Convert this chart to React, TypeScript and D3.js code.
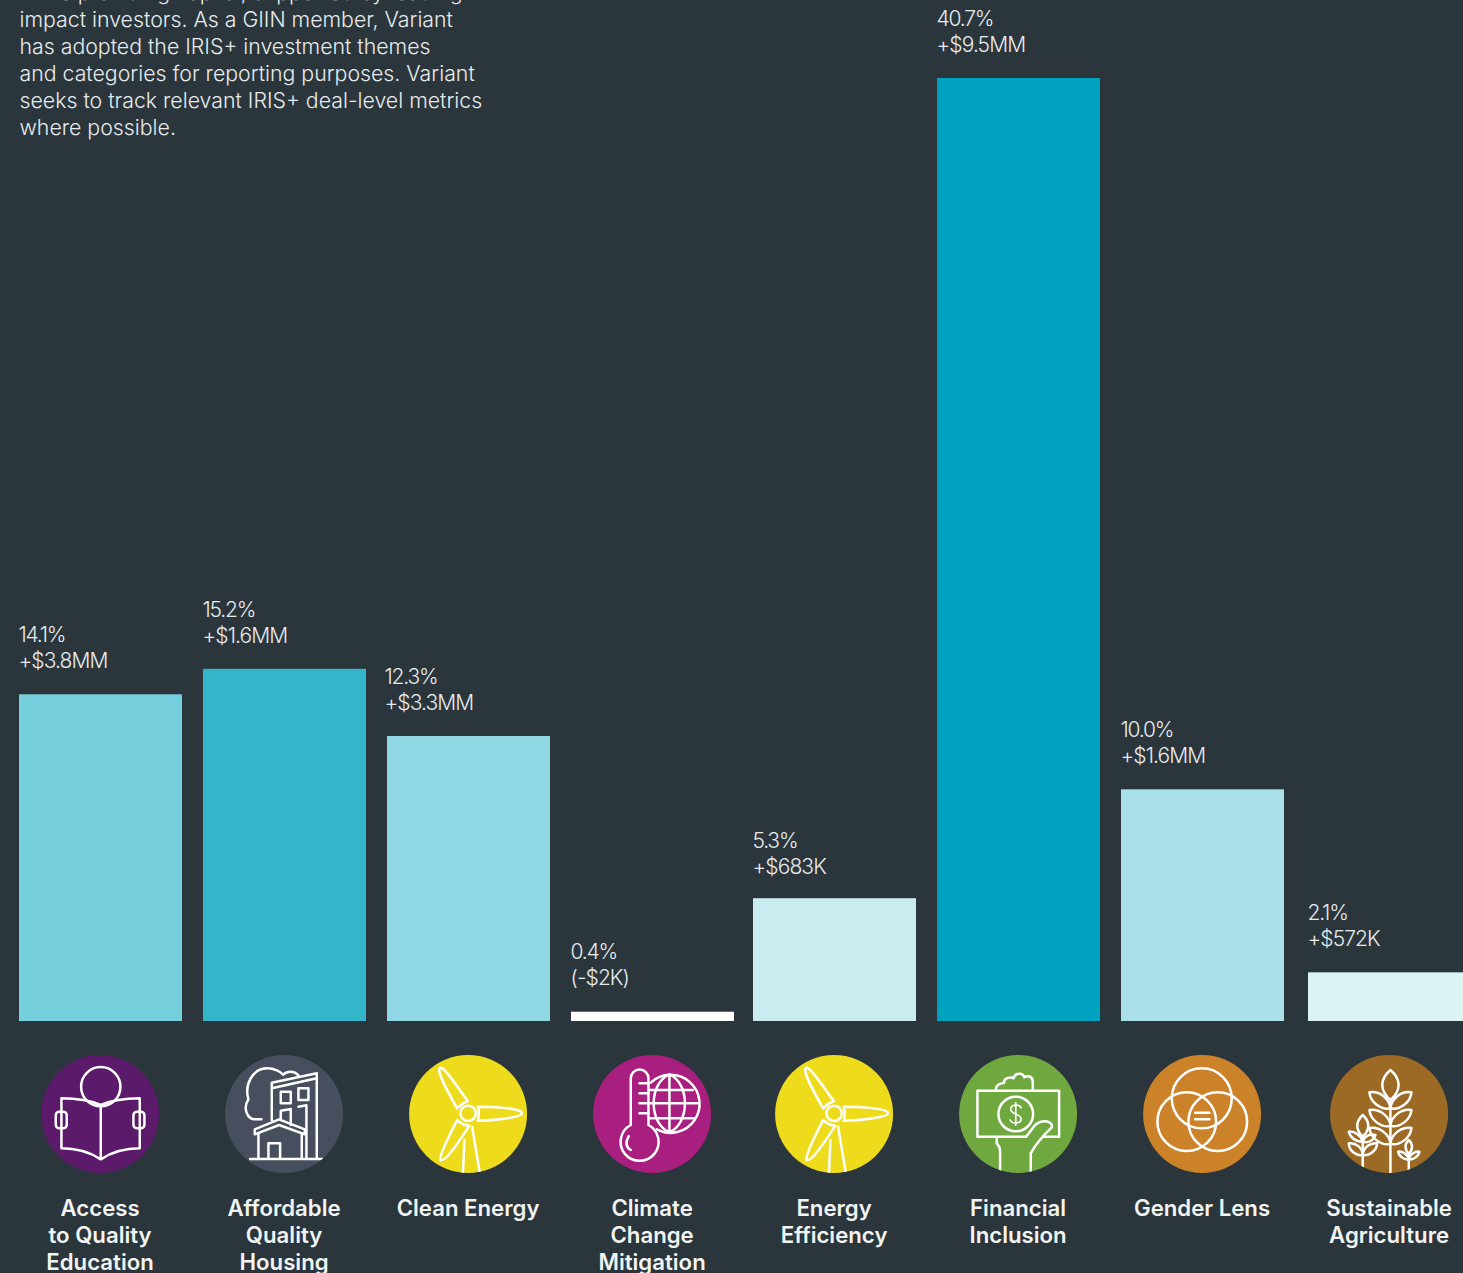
import React from "react";
import * as d3 from "d3";

const categories = [
  "Access to Quality Education",
  "Affordable Quality Housing",
  "Clean Energy",
  "Climate Change Mitigation",
  "Energy Efficiency",
  "Financial Inclusion",
  "Gender Lens",
  "Sustainable Agriculture",
];
const shares = [14.1, 15.2, 12.3, 0.4, 5.3, 40.7, 10.0, 2.1];
const shareLabels = ["14.1%", "15.2%", "12.3%", "0.4%", "5.3%", "40.7%", "10.0%", "2.1%"];
const amountLabels = ["+$3.8MM", "+$1.6MM", "+$3.3MM", "(-$2K)", "+$683K", "+$9.5MM", "+$1.6MM", "+$572K"];
const barColors = ["#75cfdd", "#33b5ca", "#8fd7e3", "#ffffff", "#caebf0", "#00a3bf", "#a9e0e9", "#dcf3f4"];
const circleColors = ["#5b1a6a", "#474f5e", "#eedb1c", "#a91f7f", "#eedb1c", "#6fa83f", "#cc8228", "#9c6a24"];
const iconNames = ["book", "house", "wind", "climate", "wind", "money", "venn", "wheat"];
const nameLines = [
  ["Access", "to Quality", "Education"],
  ["Affordable", "Quality", "Housing"],
  ["Clean Energy"],
  ["Climate", "Change", "Mitigation"],
  ["Energy", "Efficiency"],
  ["Financial", "Inclusion"],
  ["Gender Lens"],
  ["Sustainable", "Agriculture"],
];
const introLines = [
  "while providing capital, supported by leading",
  "impact investors. As a GIIN member, Variant",
  "has adopted the IRIS+ investment themes",
  "and categories for reporting purposes. Variant",
  "seeks to track relevant IRIS+ deal-level metrics",
  "where possible.",
];

const WIDTH = 1463;
const HEIGHT = 1273;
const BASELINE = 1021;
const BAR_WIDTH = 163;
const barLefts = [19, 203, 387, 571, 753, 937, 1121, 1308];
const labelLefts = [19, 203, 385, 571, 753, 937, 1121, 1308];
const labelShifts = [0, 0, 0, -0.5, 1.5, 0, 0, 0];
const FONT = "Inter, 'Noto Sans', sans-serif";
const INK = "#e8ebec";

const x = d3.scaleOrdinal<string, number>().domain(categories).range(barLefts);
const y = d3.scaleLinear().domain([0, 40.7]).range([BASELINE, 78]);

function Leaf({ x0, y0, x1, y1, w }: { x0: number; y0: number; x1: number; y1: number; w: number }) {
  const dx = x1 - x0, dy = y1 - y0;
  const nx = -dy, ny = dx;
  const len = Math.hypot(nx, ny) || 1;
  const ox = (nx / len) * w, oy = (ny / len) * w;
  const p = (t: number, s: number) => `${x0 + dx * t + ox * s},${y0 + dy * t + oy * s}`;
  return <path d={`M${x0},${y0} C${p(0.25, 1)} ${p(0.75, 1)} ${x1},${y1} C${p(0.75, -1)} ${p(0.25, -1)} ${x0},${y0}Z`} />;
}

function Icon({ name }: { name: string }) {
  switch (name) {
    case "book":
      return (
        <g transform="translate(-243,-222)">
          <circle cx={245} cy={140} r={59} />
          <path d="M245,195 C210,180 170,175 127,175 V325 C170,325 210,335 245,358 C280,335 320,325 362,325 V175 C320,175 280,180 245,195 V358" />
          <rect x={110} y={215} width={33} height={50} rx={11} />
          <rect x={343} y={215} width={33} height={50} rx={11} />
        </g>
      );
    case "house":
      return (
        <g transform="translate(-795,-222)">
          <path d="M727,238 H708 C685,238 670,205 688,178 C675,135 700,85 745,85 C765,85 785,95 792,104 C805,92 825,92 838,106" />
          <path d="M758,240 V128 L893,100 V355 M758,145 L893,115 M862,198 V355 M838,200 L862,196" />
          <rect x={785} y={155} width={30} height={35} />
          <rect x={838} y={145} width={30} height={35} />
          <path d="M785,240 V212 L815,207 V255" />
          <path d="M707,283 V268 L780,238 L857,268 V283 L780,255 Z" />
          <path d="M718,280 V357 M848,280 V357 M748,357 V310 H783 V357 M693,357 H910" />
        </g>
      );
    case "wind":
      return (
        <g transform="translate(-233,-222)">
          <circle cx={233} cy={220} r={23} />
          <path d="M200,205 C175,160 140,100 147,85 C155,70 200,140 232,183 Q215,190 200,205 Z" />
          <path d="M262,200 C310,200 395,205 395,220 C395,232 310,242 262,242 Q268,220 262,200 Z" />
          <path d="M200,240 C180,280 145,345 150,360 C165,370 215,290 237,257 Q215,255 200,240 Z" />
          <path d="M222,300 L217,410 M245,260 L270,410" />
        </g>
      );
    case "climate":
      return (
        <g transform="translate(-786,-222)">
          <path d="M722,255 V115 A26,26 0 0 1 775,115 V255 A57,57 0 1 1 722,255 Z" />
          <path d="M716,288 Q700,318 722,330" />
          <path d="M748,130 H775 M748,160 H775 M748,190 H775 M748,220 H775" />
          <path d="M782,128 A87,87 0 1 1 800,268" />
          <path d="M838,103 C775,130 775,250 838,277 C900,250 900,130 838,103 M838,103 V277 M778,150 H908 M778,190 H925 M778,235 H912" />
        </g>
      );
    case "money":
      return (
        <g transform="translate(-234,-222)">
          <path d="M258,290 H112 V152 H357 V290 H310" />
          <circle cx={227} cy={222} r={52} />
          <path d="M243,203 C238,192 212,192 212,208 C212,225 243,220 243,237 C243,252 215,252 210,240 M227,188 V256" strokeWidth={5} />
          <path d="M168,152 C165,135 180,130 192,128 C190,112 215,110 220,115 C225,97 250,97 252,112 C265,105 278,110 278,125 V152" />
          <path d="M170,292 V310 Q180,320 180,335 V410 M272,410 V340 Q290,305 335,262 C340,245 310,235 285,255 L258,290" />
        </g>
      );
    case "venn":
      return (
        <g transform="translate(-788,-222)">
          <circle cx={787} cy={175} r={90} />
          <circle cx={742} cy={245} r={88} />
          <circle cx={835} cy={245} r={88} />
          <path d="M767,218 H810 M767,238 H810" />
        </g>
      );
    default:
      return (
        <g transform="translate(-1346,-222)">
          <path d="M1350,90 C1320,115 1315,150 1350,180 C1385,150 1380,115 1350,90 Z M1350,180 V410" />
          {[205, 258, 312].map((yy) => (
            <g key={yy}>
              <Leaf x0={1350} y0={yy} x1={1287} y1={yy - 48} w={22} />
              <Leaf x0={1350} y0={yy} x1={1413} y1={yy - 48} w={22} />
            </g>
          ))}
          <path d="M1267,225 C1245,245 1245,270 1267,290 C1289,270 1289,245 1267,225 Z M1267,290 V390" />
          <Leaf x0={1267} y0={305} x1={1225} y1={275} w={12} />
          <Leaf x0={1267} y0={305} x1={1305} y1={285} w={12} />
          <Leaf x0={1267} y0={345} x1={1225} y1={310} w={16} />
          <Leaf x0={1267} y0={345} x1={1310} y1={310} w={16} />
          <path d="M1405,300 C1392,312 1392,328 1405,342 C1418,328 1418,312 1405,300 Z M1405,342 V395" />
          <Leaf x0={1405} y0={358} x1={1373} y1={335} w={10} />
          <Leaf x0={1405} y0={358} x1={1437} y1={335} w={10} />
        </g>
      );
  }
}

export default function App() {
  return (
    <svg
      width={WIDTH}
      height={HEIGHT}
      viewBox={`0 0 ${WIDTH} ${HEIGHT}`}
      style={{ position: "fixed", left: 0, top: 0, display: "block", background: "#2a363c" }}
      fontFamily={FONT}
    >
      <defs>
        {categories.map((c, i) => {
          const cx = x(c) + BAR_WIDTH / 2 - 0.4;
          return (
            <clipPath id={`clip-${i}`} key={c}>
              <circle cx={cx} cy={1114} r={59} />
            </clipPath>
          );
        })}
      </defs>
      <g fill={INK} fontSize={21.3} fontWeight={300}>
        {introLines.map((t, i) => (
          <text key={t} x={19.5} y={i * 27}>{t}</text>
        ))}
      </g>
      {categories.map((c, i) => {
        const left = x(c);
        const cx = left + BAR_WIDTH / 2 - 0.4;
        const top = y(shares[i]);
        return (
          <g key={c}>
            <rect x={left} y={top} width={BAR_WIDTH} height={BASELINE - top} fill={barColors[i]} />
            <g fill={INK} fontSize={21} fontWeight={300}>
              <text x={labelLefts[i] - 0.5} y={top - 52 + labelShifts[i]} letterSpacing={-1.2}>{shareLabels[i]}</text>
              <text x={labelLefts[i] - 0.5} y={top - 26 + labelShifts[i]} letterSpacing={-0.9}>{amountLabels[i]}</text>
            </g>
            <circle cx={cx} cy={1114} r={59} fill={circleColors[i]} />
            <g clipPath={`url(#clip-${i})`}>
              <g
                transform={`translate(${cx},1114) scale(${1 / 3})`}
                fill="none"
                stroke="#ffffff"
                strokeWidth={7.5}
                strokeLinejoin="round"
                strokeLinecap="round"
              >
                <Icon name={iconNames[i]} />
              </g>
            </g>
            <g fill="#f2f4f4" fontSize={22.2} fontWeight={600} textAnchor="middle">
              {nameLines[i].map((line, j) => (
                <text key={line} x={cx} y={1216 + j * 27}>{line}</text>
              ))}
            </g>
          </g>
        );
      })}
    </svg>
  );
}
